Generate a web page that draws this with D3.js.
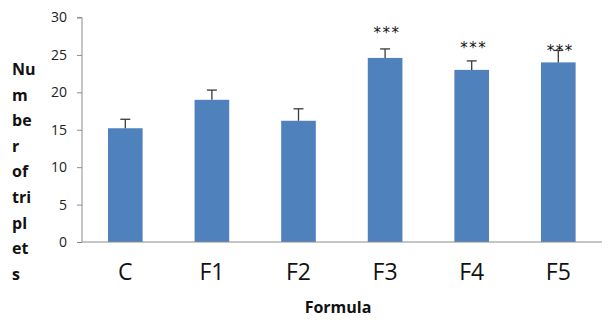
<!DOCTYPE html>
<html><head><meta charset="utf-8">
<script src="https://cdn.jsdelivr.net/npm/d3@7"></script>
<style>body{margin:0;background:#fff}svg{display:block}</style>
</head><body>
<svg id="c" width="612" height="334"></svg>
<script>
const categories = ["C","F1","F2","F3","F4","F5"];
const values = [15.2, 19.0, 16.2, 24.6, 23.0, 24.0];
const errors = [1.2, 1.3, 1.6, 1.2, 1.2, 1.6];
const sigLabels = ["", "", "", "***", "***", "***"];
const sigLevels = [null, null, null, 28.5, 26.4, 26.1];
const yTicks = [0,5,10,15,20,25,30];
const yLabelLines = ["Nu","m","be","r","of","tri","pl","et","s"];
const xTitle = "Formula";

(function(){
const svg = d3.select("#c");
const mLeft = 82, mRight = 602, mTop = 17.5, mBottom = 242;
const x = d3.scaleBand().domain(categories).range([mLeft, mLeft + 6*86.6]).paddingInner(0.6).paddingOuter(0.3);
const y = d3.scaleLinear().domain([0,30]).range([mBottom, mTop]);
const axisColor = "#8c8c8c";
const font = "'Open Sans', 'Liberation Sans', sans-serif";

// y axis
const ya = svg.append("g").attr("transform", `translate(${mLeft},0)`)
  .call(d3.axisLeft(y).tickValues(yTicks).tickSize(5).tickPadding(10));
ya.select(".domain").attr("stroke", axisColor).attr("d", `M-5,${y(30)}H0V${mBottom}`);
ya.selectAll(".tick line").attr("stroke", axisColor);
ya.selectAll(".tick text").attr("font-family", font).attr("font-size", 14).attr("fill", "#222");

// bars
svg.append("g").selectAll("rect").data(categories).join("rect")
  .attr("x", d => x(d)).attr("width", x.bandwidth())
  .attr("y", (d,i) => y(values[i])).attr("height", (d,i) => mBottom - y(values[i]))
  .attr("fill", "#4f81bd");

// error bars
const eg = svg.append("g").attr("stroke", "#3a3a3a").attr("stroke-width", 1.3);
categories.forEach((d,i) => {
  const cx = x(d) + x.bandwidth()/2;
  eg.append("line").attr("x1", cx).attr("x2", cx).attr("y1", y(values[i])).attr("y2", y(values[i]+errors[i]));
  eg.append("line").attr("x1", cx-5).attr("x2", cx+5).attr("y1", y(values[i]+errors[i])).attr("y2", y(values[i]+errors[i]));
});

// x axis
svg.append("line").attr("x1", mLeft).attr("x2", mRight).attr("y1", mBottom).attr("y2", mBottom)
  .attr("stroke", axisColor).attr("stroke-width", 1.2);
const xa = svg.append("g").attr("transform", `translate(0,${mBottom})`)
  .call(d3.axisBottom(x).tickSize(0).tickPadding(22));
xa.select(".domain").remove();
xa.selectAll(".tick text").attr("font-family", font).attr("font-size", 23).attr("fill", "#111");

// significance labels
svg.append("g").selectAll("text").data(categories).join("text")
  .filter((d,i) => sigLabels[i])
  .attr("x", d => x(d) + x.bandwidth()/2 + 2)
  .attr("y", d => y(sigLevels[categories.indexOf(d)]) + 9)
  .attr("text-anchor", "middle").attr("font-family", "'DejaVu Sans', sans-serif")
  .attr("font-size", 15).attr("letter-spacing", 1.5).attr("fill", "#111")
  .text(d => sigLabels[categories.indexOf(d)]);

// axis titles
svg.append("text").attr("x", (mLeft + mRight)/2 - 4).attr("y", 313)
  .attr("text-anchor", "middle").attr("font-family", font).attr("font-weight", "bold")
  .attr("font-size", 16).attr("fill", "#111").text(xTitle);
svg.append("g").selectAll("text").data(yLabelLines).join("text")
  .attr("x", 12).attr("y", (d,i) => 75 + i*25.6)
  .attr("font-family", font).attr("font-weight", "bold").attr("font-size", 16).attr("fill", "#111")
  .text(d => d);
})();
</script>
</body></html>
